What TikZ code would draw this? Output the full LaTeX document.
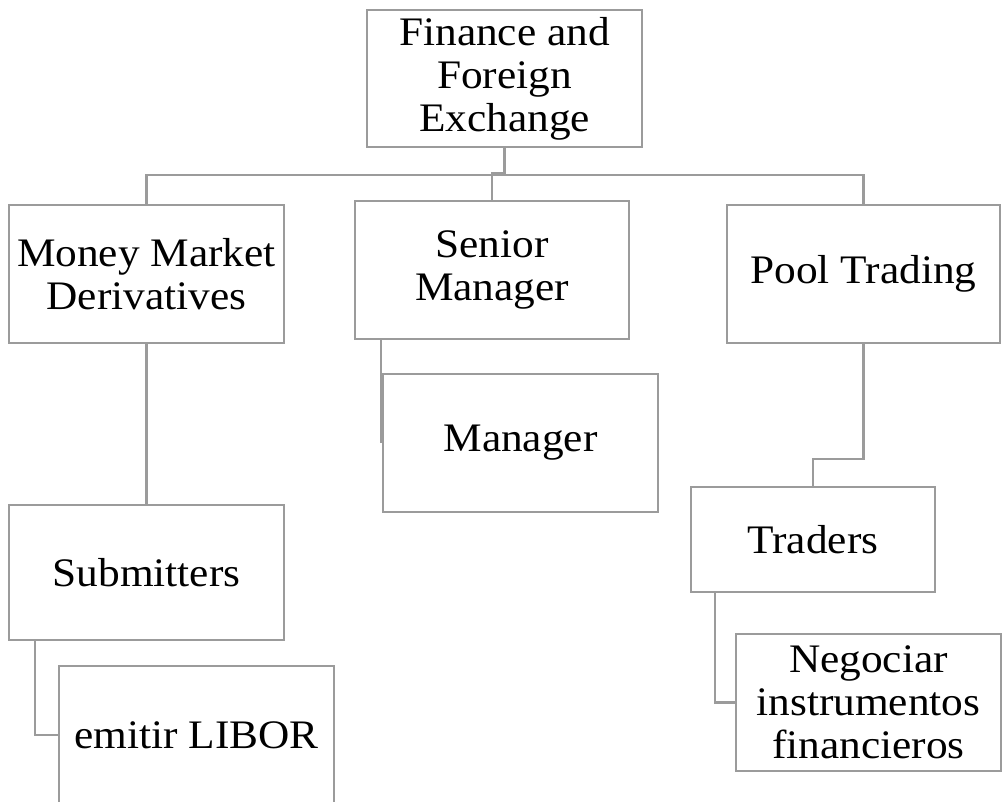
\documentclass[tikz,border=0pt]{standalone}
\usepackage{fontspec}
\setmainfont{Liberation Serif}[FakeStretch=1.07]
\definecolor{linegray}{RGB}{155,155,155}
\tikzset{
  box/.style={draw=linegray, line width=2.2pt, fill=white, inner sep=0pt, align=center,
    font=\fontsize{40.5}{43}\selectfont},
  conn/.style={draw=linegray, line width=2.4pt}
}
\begin{document}
\begin{tikzpicture}[x=1pt,y=-1pt]
\useasboundingbox (0,0) rectangle (1002,802);
\clip (0,0) rectangle (1002,802);
\node[box, minimum width=275pt, minimum height=137pt] (fin) at (504.5,78.5) {Finance and\\Foreign\\Exchange};
\node[box, minimum width=275pt, minimum height=138pt] (mmd) at (146.5,274) {Money Market\\Derivatives};
\node[box, minimum width=274pt, minimum height=138pt] (sen) at (492,270) {Senior\\Manager};
\node[box, minimum width=273pt, minimum height=138pt] (pool) at (863.5,274) {Pool Trading};
\node[box, minimum width=275pt, minimum height=138pt] (man) at (520.5,443) {Manager};
\node[box, minimum width=275pt, minimum height=135pt] (sub) at (146.5,572.5) {Submitters};
\node[box, minimum width=275pt, minimum height=138pt] (emi) at (196.5,735) {emitir LIBOR};
\node[box, minimum width=244pt, minimum height=105pt] (tra) at (813,539.5) {Traders};
\node[box, minimum width=265pt, minimum height=137pt] (neg) at (868.5,702.5) {Negociar\\instrumentos\\financieros};
\draw[conn] (fin.south) -- ++(0,25) -| (sen.north);
\draw[conn] (mmd.north) -- ++(0,-29) -| (pool.north);
\draw[conn] ([xshift=-1pt]sen.south -| man.west) -- ([xshift=-1pt]man.west);
\draw[conn] (mmd.south) -- (sub.north);
\draw[conn] ([xshift=27pt]sub.south west) |- (emi.west);
\draw[conn] (pool.south) -- ++(0,115) -| (tra.north);
\draw[conn] ([xshift=25pt]tra.south west) |- (neg.west);
\end{tikzpicture}
\end{document}
